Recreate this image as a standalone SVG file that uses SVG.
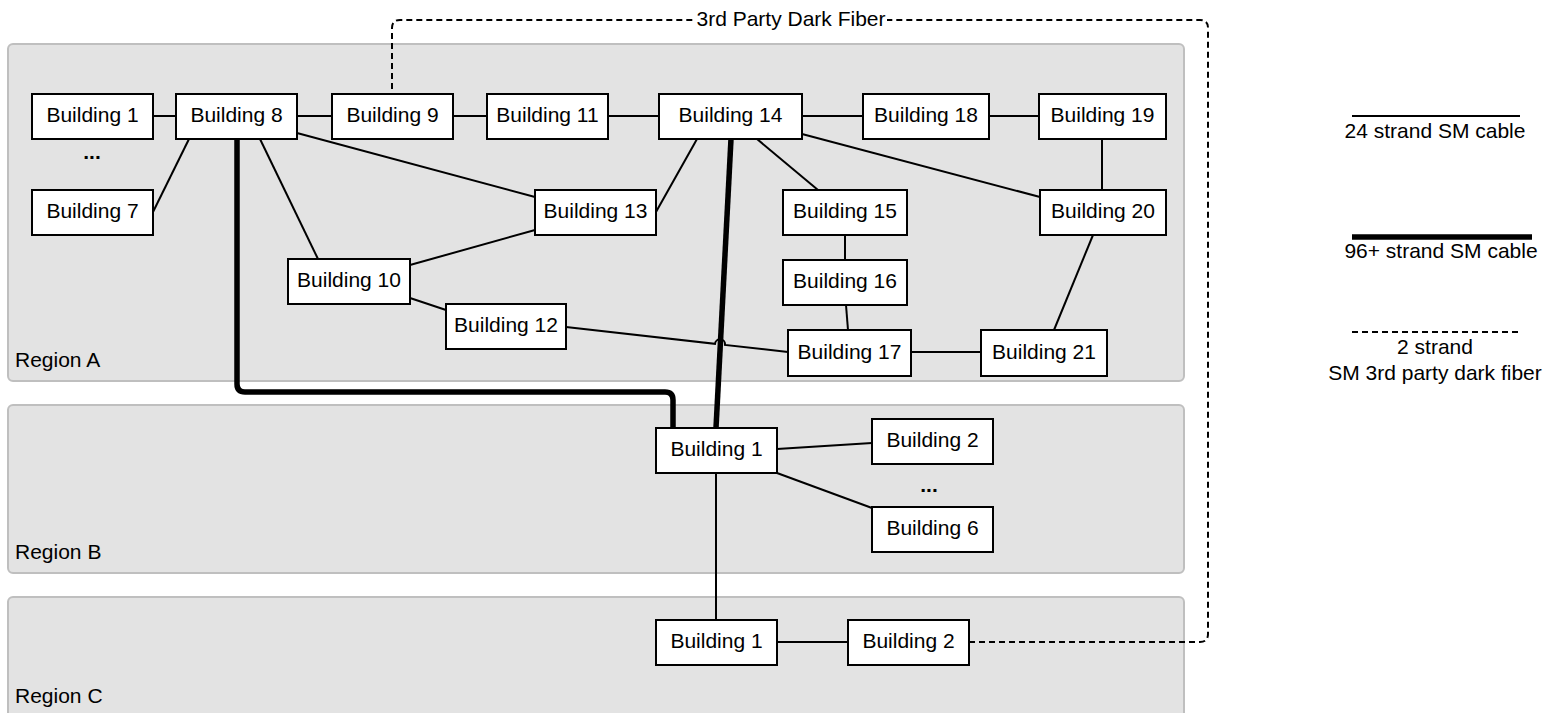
<svg xmlns="http://www.w3.org/2000/svg" width="1549" height="713" viewBox="0 0 1549 713">
  <style>
    .region { fill: #e3e3e3; stroke: #bfbfbf; stroke-width: 2; }
    .node rect { fill: #ffffff; stroke: #000000; stroke-width: 2; }
    text { font-family: "Liberation Sans", Arial, sans-serif; font-size: 21px; fill: #000000; }
    .label { text-anchor: middle; dominant-baseline: central; }
    .link { fill: none; stroke: #000000; stroke-width: 2; }
    .trunk { fill: none; stroke: #000000; stroke-width: 5.5; stroke-linejoin: round; }
    .dark { fill: none; stroke: #000000; stroke-width: 2; stroke-dasharray: 6 4; }
  </style>

  <rect width="1549" height="713" fill="#ffffff"/>

  <!-- Regions -->
  <g id="regions">
    <rect class="region" x="8" y="44" width="1176" height="337" rx="5"/>
    <rect class="region" x="8" y="405" width="1176" height="168" rx="5"/>
    <rect class="region" x="8" y="597" width="1176" height="130" rx="5"/>
    <text x="15" y="367">Region A</text>
    <text x="15" y="559">Region B</text>
    <text x="15" y="703">Region C</text>
  </g>

  <!-- Cables -->
  <g id="connectors">
    <!-- 24 strand -->
    <line class="link" x1="153" y1="116" x2="176" y2="116"/>
    <line class="link" x1="297" y1="116" x2="332" y2="116"/>
    <line class="link" x1="453" y1="116" x2="487" y2="116"/>
    <line class="link" x1="608" y1="116" x2="659" y2="116"/>
    <line class="link" x1="802" y1="116" x2="863" y2="116"/>
    <line class="link" x1="989" y1="116" x2="1039" y2="116"/>
    <line class="link" x1="189" y1="139" x2="153" y2="212"/>
    <line class="link" x1="260" y1="139" x2="318" y2="259"/>
    <line class="link" x1="297" y1="133" x2="535" y2="197"/>
    <line class="link" x1="535" y1="230" x2="410" y2="265"/>
    <line class="link" x1="656" y1="212" x2="697" y2="139"/>
    <line class="link" x1="757" y1="139" x2="818" y2="190"/>
    <line class="link" x1="802" y1="134" x2="1040" y2="197"/>
    <line class="link" x1="1102" y1="139" x2="1102" y2="190"/>
    <line class="link" x1="845" y1="235" x2="845" y2="260"/>
    <line class="link" x1="846" y1="305" x2="848" y2="330"/>
    <line class="link" x1="911" y1="352" x2="981" y2="352"/>
    <line class="link" x1="1093" y1="235" x2="1054" y2="330"/>
    <line class="link" x1="410" y1="298" x2="446" y2="310"/>
    <path class="link" d="M566 327 L715 343.8 A5 5 0 0 1 725 344.9 L788 352"/>
    <line class="link" x1="777" y1="449" x2="872" y2="443"/>
    <line class="link" x1="777" y1="473" x2="872" y2="508"/>
    <line class="link" x1="716" y1="473" x2="716" y2="620"/>
    <line class="link" x1="777" y1="642" x2="848" y2="642"/>
    <!-- 96+ strand -->
    <line class="trunk" x1="731" y1="139" x2="716" y2="428"/>
    <path class="trunk" d="M237 139 V384 Q237 392 245 392 H665 Q673 392 673 400 V428"/>
    <!-- 3rd party dark fiber -->
    <path class="dark" d="M969 642 H1200 Q1208 642 1208 634 V28 Q1208 20 1200 20 H400 Q392 20 392 28 V94"/>
    <rect x="695" y="8" width="192" height="24" fill="#ffffff"/>
    <text class="label" x="791" y="18">3rd Party Dark Fiber</text>
  </g>

  <!-- Region A buildings -->
  <g id="a-b1" class="node"><rect x="32" y="94" width="121" height="45"/><text class="label" x="92.5" y="114.5">Building 1</text></g>
  <g id="a-b8" class="node"><rect x="176" y="94" width="121" height="45"/><text class="label" x="236.5" y="114.5">Building 8</text></g>
  <g id="a-b9" class="node"><rect x="332" y="94" width="121" height="45"/><text class="label" x="392.5" y="114.5">Building 9</text></g>
  <g id="a-b11" class="node"><rect x="487" y="94" width="121" height="45"/><text class="label" x="547.5" y="114.5">Building 11</text></g>
  <g id="a-b14" class="node"><rect x="659" y="94" width="143" height="45"/><text class="label" x="730.5" y="114.5">Building 14</text></g>
  <g id="a-b18" class="node"><rect x="863" y="94" width="126" height="45"/><text class="label" x="926" y="114.5">Building 18</text></g>
  <g id="a-b19" class="node"><rect x="1039" y="94" width="127" height="45"/><text class="label" x="1102.5" y="114.5">Building 19</text></g>
  <g id="a-dots"><text class="label" x="92" y="151" font-weight="bold">...</text></g>
  <g id="a-b7" class="node"><rect x="32" y="190" width="121" height="45"/><text class="label" x="92.5" y="210.5">Building 7</text></g>
  <g id="a-b13" class="node"><rect x="535" y="190" width="121" height="45"/><text class="label" x="595.5" y="210.5">Building 13</text></g>
  <g id="a-b15" class="node"><rect x="783" y="190" width="124" height="45"/><text class="label" x="845" y="210.5">Building 15</text></g>
  <g id="a-b20" class="node"><rect x="1040" y="190" width="126" height="45"/><text class="label" x="1103" y="210.5">Building 20</text></g>
  <g id="a-b10" class="node"><rect x="288" y="259" width="122" height="45"/><text class="label" x="349" y="279.5">Building 10</text></g>
  <g id="a-b16" class="node"><rect x="783" y="260" width="124" height="45"/><text class="label" x="845" y="280.5">Building 16</text></g>
  <g id="a-b12" class="node"><rect x="446" y="304" width="120" height="45"/><text class="label" x="506" y="324.5">Building 12</text></g>
  <g id="a-b17" class="node"><rect x="788" y="330" width="123" height="46"/><text class="label" x="849.5" y="351">Building 17</text></g>
  <g id="a-b21" class="node"><rect x="981" y="330" width="126" height="46"/><text class="label" x="1044" y="351">Building 21</text></g>

  <!-- Region B buildings -->
  <g id="b-b1" class="node"><rect x="656" y="428" width="121" height="45"/><text class="label" x="716.5" y="448.5">Building 1</text></g>
  <g id="b-b2" class="node"><rect x="872" y="419" width="121" height="45"/><text class="label" x="932.5" y="439.5">Building 2</text></g>
  <g id="b-dots"><text class="label" x="929" y="484" font-weight="bold">...</text></g>
  <g id="b-b6" class="node"><rect x="872" y="507" width="121" height="45"/><text class="label" x="932.5" y="527.5">Building 6</text></g>

  <!-- Region C buildings -->
  <g id="c-b1" class="node"><rect x="656" y="620" width="121" height="45"/><text class="label" x="716.5" y="640.5">Building 1</text></g>
  <g id="c-b2" class="node"><rect x="848" y="620" width="121" height="45"/><text class="label" x="908.5" y="640.5">Building 2</text></g>

  <!-- Legend -->
  <g id="legend">
    <line class="link" x1="1352" y1="116" x2="1520" y2="116"/>
    <text class="label" x="1435" y="130">24 strand SM cable</text>
    <line class="trunk" x1="1352" y1="237" x2="1532" y2="237" stroke-linecap="butt"/>
    <text class="label" x="1441" y="250">96+ strand SM cable</text>
    <line class="dark" x1="1352" y1="332" x2="1520" y2="332"/>
    <text class="label" x="1435" y="346">2 strand</text>
    <text class="label" x="1435" y="372">SM 3rd party dark fiber</text>
  </g>
</svg>
